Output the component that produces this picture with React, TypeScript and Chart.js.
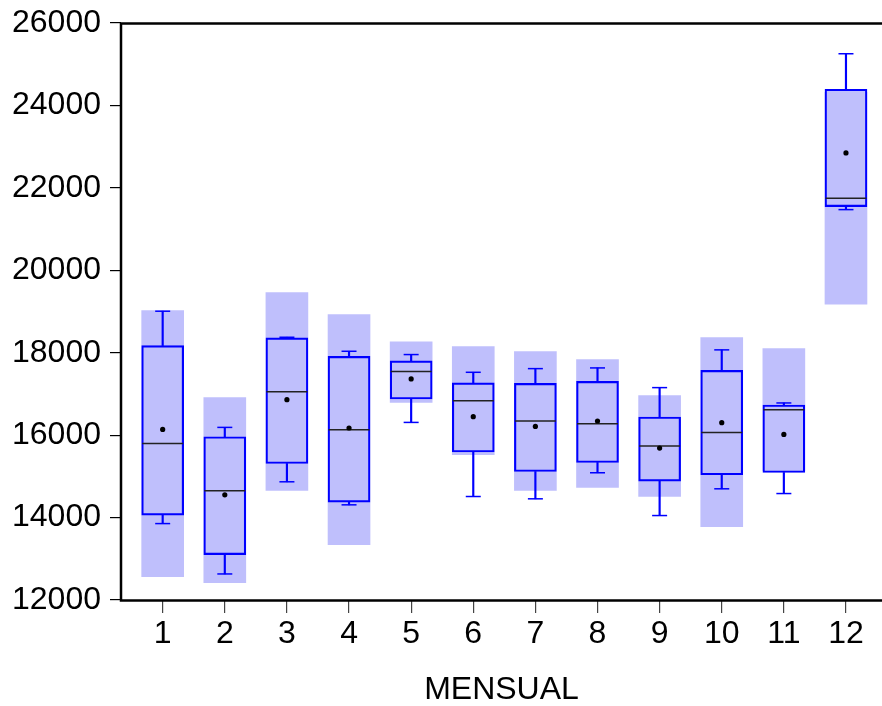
import React, { useEffect, useRef } from 'react';
import { Chart, registerables } from 'chart.js';

Chart.register(...registerables);

// Months (categories)
const months = [1, 2, 3, 4, 5, 6, 7, 8, 9, 10, 11, 12];

// Box plot statistics per month
const whiskerLow = [13854, 12632, 14868, 14309, 16309, 14511, 14455, 15087, 14049, 14698, 14583, 21472];
const q1 = [14058, 13101, 15313, 14374, 16878, 15590, 15118, 15337, 14885, 15038, 15094, 21545];
const median = [15799, 14649, 17055, 16132, 17542, 16837, 16343, 16278, 15735, 16066, 16618, 21746];
const mean = [16139, 14552, 16861, 16173, 17364, 16448, 16212, 16343, 15687, 16302, 16017, 22848];
const q3 = [18173, 15962, 18361, 17913, 17802, 17267, 17257, 17306, 16440, 17573, 16732, 24389];
const whiskerHigh = [19007, 16188, 18375, 18035, 17955, 17525, 17614, 17631, 17153, 18069, 16781, 25254];

// Median confidence interval (shaded band)
const shadeLow = [12566, 12420, 14656, 13344, 16795, 15524, 14656, 14729, 14511, 13781, 15135, 19177];
const shadeHigh = [19024, 16910, 19462, 18927, 18263, 18149, 18028, 17833, 16958, 18368, 18101, 24315];

// Axis ticks
const yTicks = [12000, 14000, 16000, 18000, 20000, 22000, 24000, 26000];
const xTitle = 'MENSUAL';

const FONT = 'Liberation Sans, Arial, Helvetica, sans-serif';
const FONT_SIZE = 32;
const BLUE = '#0000ff';
const SHADE = '#bfbffc';

export default function App() {
  const ref = useRef<HTMLCanvasElement>(null);

  useEffect(() => {
    document.body.style.margin = '0';
    const canvas = ref.current!;
    const pts = (arr: number[]) => months.map((m, i) => ({ x: m, y: arr[i] }));
    const rng = (a: number[], b: number[]) => months.map((m, i) => ({ x: m, y: [a[i], b[i]] }));

    const framePlugin = {
      id: 'frame',
      afterDraw(chart: any) {
        const { ctx, chartArea: a } = chart;
        ctx.save();
        ctx.strokeStyle = '#000';
        ctx.lineWidth = 2.5;
        ctx.lineCap = 'butt';
        ctx.beginPath();
        ctx.moveTo(chart.width + 5, a.top + 0.5);
        ctx.lineTo(a.left, a.top + 0.5);
        ctx.lineTo(a.left, a.bottom + 0.5);
        ctx.lineTo(chart.width + 5, a.bottom + 0.5);
        ctx.stroke();
        ctx.restore();
      },
    };

    const chart = new Chart(canvas, {
      type: 'bar',
      data: {
        datasets: [
          {
            type: 'bar',
            data: rng(shadeLow, shadeHigh) as any,
            backgroundColor: SHADE,
            borderWidth: 0,
            barThickness: 42,
            grouped: false,
            order: 6,
          },
          {
            type: 'bar',
            data: rng(q3, whiskerHigh) as any,
            backgroundColor: BLUE,
            borderWidth: 0,
            barThickness: 1.5,
            grouped: false,
            order: 4,
          },
          {
            type: 'bar',
            data: rng(whiskerLow, q1) as any,
            backgroundColor: BLUE,
            borderWidth: 0,
            barThickness: 1.5,
            grouped: false,
            order: 4,
          },
          {
            type: 'bar',
            data: rng(q1, q3) as any,
            backgroundColor: 'rgba(0,0,0,0)',
            borderColor: BLUE,
            borderWidth: 1.5,
            borderSkipped: false,
            barThickness: 42,
            grouped: false,
            order: 3,
          },
          {
            type: 'scatter',
            data: pts(whiskerHigh),
            pointStyle: 'line',
            pointRadius: 7.5,
            borderColor: BLUE,
            borderWidth: 1.5,
            order: 2,
          },
          {
            type: 'scatter',
            data: pts(whiskerLow),
            pointStyle: 'line',
            pointRadius: 7.5,
            borderColor: BLUE,
            borderWidth: 1.5,
            order: 2,
          },
          {
            type: 'scatter',
            data: pts(median),
            pointStyle: 'line',
            pointRadius: 20.5,
            borderColor: '#222',
            borderWidth: 1.5,
            order: 1,
          },
          {
            type: 'scatter',
            data: pts(mean),
            pointStyle: 'circle',
            pointRadius: 2.6,
            backgroundColor: '#000',
            borderColor: '#000',
            borderWidth: 0,
            order: 0,
          },
        ] as any,
      },
      options: {
        animation: false,
        responsive: false,
        devicePixelRatio: 1,
        events: [],
        layout: { autoPadding: false, padding: { top: 23, right: 0, bottom: 0, left: 0 } },
        plugins: { legend: { display: false }, tooltip: { enabled: false } },
        scales: {
          x: {
            type: 'linear',
            min: 0.329,
            max: 12.58,
            offset: false,
            afterBuildTicks: (s: any) => {
              s.ticks = months.map((v) => ({ value: v }));
            },
            afterFit: (s: any) => {
              s.height = 106;
              s.paddingLeft = 0;
              s.paddingRight = 0;
            },
            ticks: {
              autoSkip: false,
              maxRotation: 0,
              padding: 2,
              color: '#000',
              font: { family: FONT, size: FONT_SIZE },
              callback: (v: any) => String(v),
            },
            grid: { drawOnChartArea: false, drawTicks: true, tickLength: 13, color: '#444', lineWidth: 1.2, offset: false },
            border: { display: false },
            title: {
              display: true,
              text: xTitle,
              color: '#000',
              font: { family: FONT, size: FONT_SIZE, lineHeight: 1.0 },
              padding: { top: 0, bottom: 0 },
            },
          },
          y: {
            type: 'linear',
            min: yTicks[0],
            max: yTicks[yTicks.length - 1],
            beginAtZero: false,
            afterBuildTicks: (s: any) => {
              s.ticks = yTicks.map((v) => ({ value: v }));
            },
            afterFit: (s: any) => {
              s.width = 121;
              s.paddingTop = 0;
              s.paddingBottom = 0;
            },
            ticks: {
              padding: 9,
              color: '#000',
              font: { family: FONT, size: FONT_SIZE },
              callback: (v: any) => String(v),
            },
            grid: { drawOnChartArea: false, drawTicks: true, tickLength: 11, color: '#000', lineWidth: 1.2 },
            border: { display: false },
          },
        },
      } as any,
      plugins: [framePlugin],
    });

    return () => chart.destroy();
  }, []);

  return (
    <div style={{ width: 882, height: 706, background: '#fff' }}>
      <canvas ref={ref} width={882} height={706} style={{ display: 'block' }} />
    </div>
  );
}
